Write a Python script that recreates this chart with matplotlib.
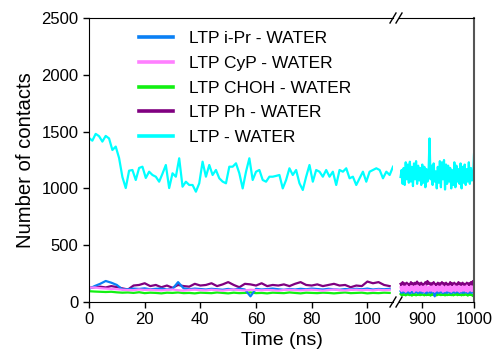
import matplotlib
matplotlib.use("Agg")
from matplotlib import pyplot as plt
import numpy as np

plt.rcParams['font.family'] = ['Liberation Sans', 'DejaVu Sans']

# left segment (0 - 109 ns), right segment (855 - 1000 ns)
left_end = 109.2
right_start = 855
right_end = 1000

# LTP - WATER, left part (1.2 ns steps)
cyan_left = [1444, 1420, 1480, 1460, 1412, 1462, 1440, 1338, 1368, 1268,
             1100, 1003, 1156, 1162, 1074, 1180, 1191, 1092, 1147, 1118,
             1103, 1059, 1130, 1206, 1003, 1133, 1103, 1265, 1015, 1059,
             1030, 1030, 971, 1045, 1235, 1103, 1206, 1118, 1162, 1089,
             1060, 1045, 1191, 1191, 1221, 1133, 1000, 1147, 1265, 1074,
             1147, 1162, 1074, 1059, 1103, 1103, 1110, 1118, 1000, 1074,
             1177, 1118, 1162, 1045, 986, 1103, 1206, 1059, 1162, 1147,
             1103, 1162, 1103, 1147, 1030, 1162, 1147, 1177, 1089, 1103,
             1030, 1089, 1147, 1059, 1147, 1162, 1177, 1162, 1089, 1147,
             1118, 1191]
# LTP - WATER, right part (2 ns steps)
cyan_right = [1100, 1162, 1040, 1180, 1030, 1230, 1080, 1210, 1050, 1235,
              1060, 1190, 1020, 1220, 1080, 1240, 1040, 1200, 1070, 1180,
              1030, 1210, 1050, 1190, 1010, 1170, 1060, 1120, 1440, 1080,
              1200, 1030, 1220, 1060, 1150, 1000, 1190, 1050, 1240, 1010,
              1230, 1080, 1250, 990, 1210, 1040, 1200, 1060, 1180, 1000,
              1160, 1030, 1230, 1010, 1200, 1060, 1170, 1040, 1220, 1000,
              1190, 1050, 1210, 1030, 1170, 1060, 1230, 1040, 1180, 1070,
              1080, 1300]

# lower series, left part (2 ns steps)
purple_left = [125, 130, 135, 128, 140, 132, 120, 110, 145, 150,
               165, 140, 150, 130, 145, 125, 150, 140, 135, 160,
               145, 150, 165, 140, 155, 175, 150, 130, 160, 155,
               145, 165, 140, 150, 145, 155, 140, 160, 175, 150,
               145, 155, 140, 150, 160, 145, 150, 130, 145, 140,
               180, 165, 175, 150, 140]
pink_left = [125, 128, 122, 118, 115, 112, 108, 105, 104, 110,
             106, 108, 104, 102, 106, 110, 104, 100, 106, 108,
             105, 102, 108, 104, 100, 106, 110, 104, 102, 108,
             105, 103, 106, 104, 100, 106, 108, 104, 102, 105,
             108, 104, 100, 106, 110, 104, 102, 106, 108, 104,
             106, 102, 108, 104, 106]
green_left = [95, 92, 90, 88, 90, 85, 82, 84, 80, 86,
              78, 82, 80, 76, 82, 80, 84, 78, 80, 76,
              82, 80, 78, 84, 80, 76, 82, 78, 80, 84,
              78, 80, 76, 82, 80, 78, 84, 80, 76, 82,
              80, 78, 82, 80, 76, 80, 84, 78, 80, 82,
              76, 80, 78, 82, 80]
blue_left = [115, 140, 160, 185, 170, 150, 110, 112, 118, 115,
             120, 112, 116, 118, 110, 115, 175, 120, 112, 118,
             114, 110, 116, 112, 108, 115, 110, 118, 110, 50,
             116, 110, 114, 118, 112, 108, 115, 110, 116, 112,
             118, 114, 110, 116, 112, 108, 114, 110, 116, 112,
             118, 110, 115, 112, 116]

# lower series, right part (2 ns steps)
purple_right = [160, 140, 175, 150, 165, 145, 170, 150, 160, 140,
                175, 155, 165, 145, 170, 150, 180, 155, 165, 145,
                170, 150, 160, 140, 175, 150, 185, 160, 170, 145,
                165, 150, 175, 150, 160, 140, 170, 150, 165, 145,
                175, 155, 165, 140, 170, 150, 160, 145, 175, 150,
                165, 145, 170, 150, 160, 140, 175, 155, 165, 145,
                170, 150, 160, 145, 170, 150, 165, 145, 175, 150,
                185, 170]
pink_right = [130, 95, 140, 100, 135, 90, 145, 100, 130, 95,
              140, 105, 135, 90, 140, 100, 145, 95, 130, 100,
              140, 95, 135, 90, 145, 100, 130, 95, 140, 100,
              135, 95, 145, 90, 130, 100, 140, 95, 135, 100,
              145, 90, 130, 95, 140, 100, 135, 95, 140, 90,
              130, 100, 145, 95, 135, 100, 140, 90, 130, 95,
              140, 100, 135, 95, 145, 90, 130, 100, 140, 95,
              135, 110]
green_right = [70, 60, 72, 62, 68, 58, 74, 64, 70, 60,
               66, 56, 72, 62, 70, 58, 68, 62, 74, 60,
               70, 64, 66, 58, 72, 60, 70, 62, 68, 56,
               74, 62, 70, 60, 66, 58, 72, 64, 70, 60,
               68, 62, 74, 58, 70, 60, 66, 62, 72, 60,
               70, 58, 68, 64, 74, 60, 70, 62, 66, 58,
               72, 60, 70, 64, 68, 56, 74, 62, 70, 60,
               52, 66]
blue_right = [95, 80, 100, 85, 92, 78, 98, 84, 90, 76,
              96, 82, 94, 80, 100, 86, 90, 78, 96, 84,
              92, 80, 98, 82, 90, 76, 95, 84, 92, 80,
              98, 86, 90, 50, 96, 82, 94, 80, 100, 84,
              90, 78, 96, 82, 92, 80, 98, 84, 90, 76,
              95, 84, 92, 80, 98, 86, 90, 78, 96, 82,
              94, 80, 100, 84, 90, 78, 96, 82, 92, 80,
              98, 84]

labels = ['LTP i-Pr - WATER', 'LTP CyP - WATER', 'LTP CHOH - WATER',
          'LTP Ph - WATER', 'LTP - WATER']
colors = ['#0a80f5', '#ff80ff', '#12f012', '#800080', '#00ffff']
left_xticks = [0, 20, 40, 60, 80, 100]
right_xticks = [900, 1000]
yticks = [0, 500, 1000, 1500, 2000, 2500]

fig = plt.figure(figsize=(4.94, 3.56), dpi=100)
W, H = 494, 356
axL = fig.add_axes([89 / W, 1 - 302 / H, (393 - 89) / W, (302 - 18) / H])
axR = fig.add_axes([399 / W, 1 - 302 / H, (474 - 399) / W, (302 - 18) / H])


def times(vals, t0, t1):
    return np.linspace(t0, t1, len(vals))


series_left = [blue_left, pink_left, green_left, purple_left, cyan_left]
series_right = [blue_right, pink_right, green_right, purple_right, cyan_right]
order = [3, 2, 0, 1, 4]  # drawing order: purple, green, blue, pink, cyan
handles = [None] * 5
for i in order:
    tl = np.arange(len(series_left[i])) * (1.2 if i == 4 else 2.0)
    h, = axL.plot(tl, series_left[i], color=colors[i], lw=1.6, label=labels[i])
    handles[i] = h
    axR.plot(times(series_right[i], 858, 1000), series_right[i], color=colors[i], lw=1.6)

axL.set_xlim(0, left_end)
axR.set_xlim(right_start, right_end)
for ax in (axL, axR):
    ax.set_ylim(0, 2500)
    ax.tick_params(direction='out', length=4, width=1, labelsize=12, top=False, right=False)

axL.set_xticks(left_xticks)
axR.set_xticks(right_xticks)
axL.set_yticks(yticks)
axR.set_yticks([])
axL.spines['right'].set_visible(False)
axR.spines['left'].set_visible(False)
axR.spines['right'].set_color('#555555')
axR.spines['right'].set_linewidth(1.5)

axL.set_ylabel('Number of contacts', fontsize=14.6, labelpad=5)
fig.text((89 + 474) / 2 / W, 1 - 345 / H, 'Time (ns)', fontsize=14,
         ha='center', va='baseline')

# break marks
for xb in (393, 399):
    for yb in (18, 302):
        fig.add_artist(plt.Line2D([(xb - 3) / W, (xb + 3) / W],
                                  [1 - (yb + 5) / H, 1 - (yb - 5) / H],
                                  color='black', lw=1))

leg = axL.legend(handles=handles, loc='upper left', frameon=False, fontsize=12.5,
                 bbox_to_anchor=(130 / W, 1 - 22 / H), bbox_transform=fig.transFigure,
                 handlelength=2.0, handletextpad=0.9, labelspacing=0.56, borderpad=0)
for line in leg.get_lines():
    line.set_linewidth(2.6)

fig.savefig('out.png', dpi=100)
